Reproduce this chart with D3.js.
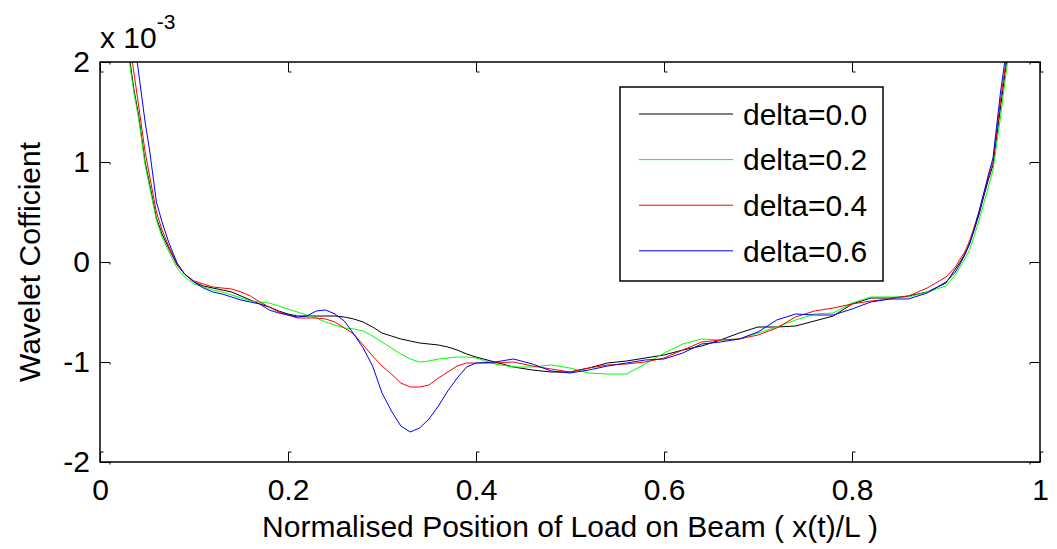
<!DOCTYPE html>
<html>
<head>
<meta charset="utf-8">
<script src="https://cdnjs.cloudflare.com/ajax/libs/d3/7.8.5/d3.min.js"></script>
<style>
  body { margin: 0; background: #fff; }
  svg { display: block; font-family: "Liberation Sans", Arial, sans-serif; }
</style>
</head>
<body>
<div id="chart"></div>
<script>
// Load position along the beam (x(t)/L)
const positions = [
  0.028, 0.032, 0.036, 0.041, 0.048, 0.053, 0.060, 0.066, 0.073, 0.082,
  0.090, 0.10, 0.11, 0.12, 0.13, 0.14, 0.15, 0.16, 0.17,
  0.18, 0.19, 0.20, 0.21, 0.22, 0.23, 0.24, 0.25, 0.26, 0.27, 0.28,
  0.29, 0.30, 0.31, 0.32, 0.33, 0.34, 0.35, 0.36, 0.37, 0.38, 0.39,
  0.40, 0.42, 0.44, 0.46, 0.48, 0.50, 0.52, 0.54, 0.56, 0.58, 0.60,
  0.62, 0.64, 0.66, 0.68, 0.70, 0.72, 0.74, 0.76, 0.78, 0.80, 0.82,
  0.84, 0.86, 0.88, 0.90,
  0.91, 0.915, 0.92, 0.925, 0.93, 0.935, 0.94, 0.945, 0.95,
  0.958, 0.964, 0.97
];

// Wavelet coefficients, in units of 1e-3
const delta00 = [
  2.4, 2.0, 1.73, 1.47, 1.0, 0.77, 0.44, 0.28, 0.14, -0.03,
  -0.12, -0.20, -0.24, -0.26, -0.28, -0.30, -0.34, -0.38, -0.42,
  -0.45, -0.49, -0.52, -0.54, -0.54, -0.54, -0.54, -0.54, -0.55, -0.57, -0.60,
  -0.65, -0.71, -0.74, -0.77, -0.79, -0.81, -0.82, -0.83, -0.85, -0.88, -0.92,
  -0.95, -1.00, -1.05, -1.08, -1.10, -1.10, -1.06, -1.01, -0.99, -0.96, -0.93,
  -0.88, -0.84, -0.78, -0.71, -0.65, -0.65, -0.64, -0.59, -0.54, -0.42, -0.36,
  -0.36, -0.34, -0.30, -0.21,
  -0.07, 0.0, 0.08, 0.18, 0.32, 0.47, 0.65, 0.82, 0.97,
  1.55, 1.97, 2.4
];

const delta02 = [
  2.35, 1.95, 1.7, 1.44, 0.97, 0.74, 0.42, 0.25, 0.11, -0.06,
  -0.15, -0.22, -0.25, -0.28, -0.30, -0.33, -0.36, -0.39, -0.40,
  -0.41, -0.44, -0.47, -0.50, -0.53, -0.56, -0.60, -0.63, -0.66, -0.67, -0.69,
  -0.74, -0.80, -0.86, -0.92, -0.97, -1.00, -0.99, -0.97, -0.96, -0.95, -0.95,
  -0.96, -1.02, -1.05, -1.05, -1.03, -1.06, -1.11, -1.12, -1.12, -1.02, -0.91,
  -0.82, -0.77, -0.78, -0.77, -0.71, -0.65, -0.58, -0.52, -0.51, -0.41, -0.35,
  -0.35, -0.35, -0.30, -0.24,
  -0.13, -0.05, 0.03, 0.12, 0.26, 0.41, 0.58, 0.75, 0.92,
  1.45, 1.9, 2.3
];

const delta04 = [
  2.5, 2.15, 1.9, 1.57, 1.1, 0.85, 0.5, 0.32, 0.16, -0.02,
  -0.12, -0.19, -0.22, -0.25, -0.26, -0.27, -0.30, -0.34, -0.40,
  -0.45, -0.50, -0.53, -0.56, -0.56, -0.56, -0.57, -0.60, -0.66, -0.72, -0.83,
  -0.94, -1.04, -1.12, -1.21, -1.25, -1.25, -1.23, -1.16, -1.10, -1.04, -1.01,
  -1.01, -1.01, -1.00, -1.04, -1.07, -1.10, -1.06, -1.03, -1.02, -1.00, -0.96,
  -0.88, -0.80, -0.78, -0.77, -0.73, -0.66, -0.55, -0.49, -0.46, -0.42, -0.39,
  -0.37, -0.34, -0.26, -0.15,
  -0.05, 0.03, 0.10, 0.21, 0.35, 0.50, 0.68, 0.85, 1.0,
  1.62, 2.02, 2.45
];

const delta06 = [
  2.9, 2.6, 2.25, 1.9, 1.4, 1.1, 0.6, 0.4, 0.2, -0.01,
  -0.12, -0.20, -0.26, -0.30, -0.32, -0.35, -0.38, -0.40, -0.42,
  -0.48, -0.51, -0.53, -0.55, -0.54, -0.49, -0.48, -0.52, -0.59, -0.72, -0.86,
  -1.04, -1.31, -1.49, -1.64, -1.70, -1.66, -1.57, -1.44, -1.29, -1.16, -1.05,
  -1.01, -1.00, -0.97, -1.02, -1.09, -1.11, -1.08, -1.04, -1.01, -0.98, -0.97,
  -0.91, -0.82, -0.80, -0.77, -0.70, -0.58, -0.52, -0.53, -0.53, -0.47, -0.40,
  -0.37, -0.37, -0.31, -0.20,
  -0.10, -0.02, 0.07, 0.18, 0.33, 0.50, 0.68, 0.87, 1.04,
  1.7, 2.1, 2.5
];

const seriesNames = ['delta=0.0', 'delta=0.2', 'delta=0.4', 'delta=0.6'];
const seriesColors = ['#000000', '#00ff00', '#ff0000', '#0000ff'];
const xTicks = [0, 0.2, 0.4, 0.6, 0.8, 1];
const yTicks = [-2, -1, 0, 1, 2];

const series = [delta00, delta02, delta04, delta06].map((vals, i) => ({
  name: seriesNames[i],
  color: seriesColors[i],
  points: positions.map((p, j) => [p, vals[j]])
}));

const width = 1057;
const height = 549;
const margin = { top: 62, right: 17, bottom: 87, left: 100 };

const svg = d3.select('#chart')
  .append('svg')
  .attr('width', width)
  .attr('height', height);

const x = d3.scaleLinear().domain([0, 1]).range([margin.left, width - margin.right]);
const y = d3.scaleLinear().domain([-2, 2]).range([height - margin.bottom, margin.top]);

// plain number labels, hyphen minus like matlab
const plainFormat = d => String(d);

// clip the curves to the axes box
svg.append('clipPath')
  .attr('id', 'plot-clip')
  .append('rect')
  .attr('x', x(0))
  .attr('y', y(2))
  .attr('width', x(1) - x(0))
  .attr('height', y(-2) - y(2));

const line = d3.line()
  .x(d => x(d[0]))
  .y(d => y(d[1]));

svg.append('g')
  .attr('clip-path', 'url(#plot-clip)')
  .selectAll('path')
  .data(series)
  .enter()
  .append('path')
  .attr('d', d => line(d.points))
  .attr('fill', 'none')
  .attr('stroke', d => d.color)
  .attr('stroke-width', 1);

// axes, ticks pointing inward like matlab
function styleAxis(g) {
  g.select('.domain').remove();
  g.attr('font-size', 30).attr('font-family', null);
  g.selectAll('.tick line').attr('stroke', '#000');
  g.selectAll('.tick text').attr('fill', '#000');
}

svg.append('g')
  .attr('transform', `translate(0,${y(-2)})`)
  .call(d3.axisBottom(x).tickValues(xTicks).tickFormat(plainFormat).tickSizeInner(-10).tickSizeOuter(0).tickPadding(17))
  .call(styleAxis)
  .call(g => g.selectAll('.tick').append('path').attr('d', 'M0,-10h3').attr('stroke', '#000').attr('fill', 'none'));

svg.append('g')
  .attr('transform', `translate(0,${y(2)})`)
  .call(d3.axisTop(x).tickValues(xTicks).tickFormat('').tickSizeInner(-10).tickSizeOuter(0))
  .call(styleAxis)
  .call(g => g.selectAll('.tick').append('path').attr('d', 'M0,10h3').attr('stroke', '#000').attr('fill', 'none'));

svg.append('g')
  .attr('transform', `translate(${x(0)},0)`)
  .call(d3.axisLeft(y).tickValues(yTicks).tickFormat(plainFormat).tickSizeInner(-10).tickSizeOuter(0).tickPadding(10))
  .call(styleAxis)
  .call(g => g.selectAll('.tick').append('path').attr('d', 'M10,0v2').attr('stroke', '#000').attr('fill', 'none'));

svg.append('g')
  .attr('transform', `translate(${x(1)},0)`)
  .call(d3.axisRight(y).tickValues(yTicks).tickFormat('').tickSizeInner(-10).tickSizeOuter(0))
  .call(styleAxis)
  .call(g => g.selectAll('.tick').append('path').attr('d', 'M-10,0v2').attr('stroke', '#000').attr('fill', 'none'));

// axes box
svg.append('rect')
  .attr('x', x(0))
  .attr('y', y(2))
  .attr('width', x(1) - x(0))
  .attr('height', y(-2) - y(2))
  .attr('fill', 'none')
  .attr('stroke', '#000')
  .attr('stroke-width', 1.5);

// exponent label
const expo = svg.append('text')
  .attr('x', x(0))
  .attr('y', 48)
  .attr('font-size', 30)
  .text('x 10');
expo.append('tspan')
  .attr('dy', -19)
  .attr('font-size', 21)
  .text('-3');

// axis titles
svg.append('text')
  .attr('x', (x(0) + x(1)) / 2)
  .attr('y', 537)
  .attr('text-anchor', 'middle')
  .attr('font-size', 30)
  .text('Normalised Position of Load on Beam ( x(t)/L )');

svg.append('text')
  .attr('transform', `translate(40,${y(0)}) rotate(-90)`)
  .attr('text-anchor', 'middle')
  .attr('font-size', 30)
  .text('Wavelet Cofficient');

// legend
const legend = svg.append('g');

legend.append('rect')
  .attr('x', 620)
  .attr('y', 87)
  .attr('width', 263)
  .attr('height', 194)
  .attr('fill', '#fff')
  .attr('stroke', '#000')
  .attr('stroke-width', 1.5);

const rows = legend.selectAll('g.row')
  .data(series)
  .enter()
  .append('g')
  .attr('class', 'row')
  .attr('transform', (d, i) => `translate(0,${114 + i * 45.6})`);

rows.append('line')
  .attr('x1', 639)
  .attr('x2', 733)
  .attr('stroke', d => d.color)
  .attr('stroke-width', 1);

rows.append('text')
  .attr('x', 743)
  .attr('dy', '0.36em')
  .attr('font-size', 30)
  .text(d => d.name);
</script>
</body>
</html>
